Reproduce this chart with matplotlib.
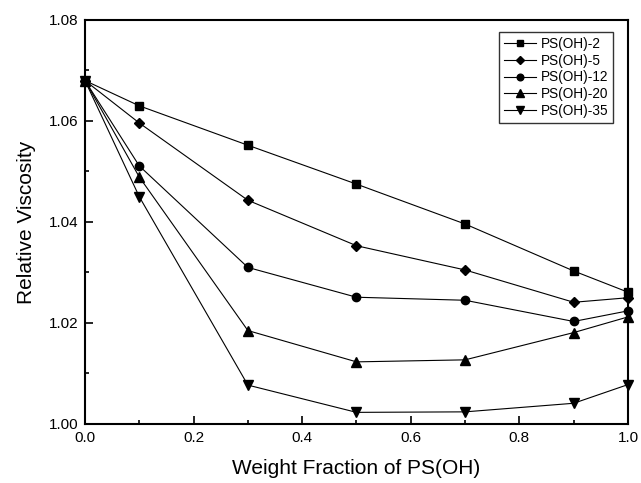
import matplotlib
matplotlib.use('Agg')
import matplotlib.pyplot as plt
from matplotlib.ticker import MultipleLocator

plt.rcParams['font.family'] = ['Liberation Sans', 'DejaVu Sans']

# weight fraction of PS(OH)
frac = [0.0, 0.1, 0.3, 0.5, 0.7, 0.9, 1.0]

# relative viscosity for each sample
ps2 = [1.068, 1.0630, 1.0552, 1.0475, 1.0396, 1.0303, 1.0261]
ps5 = [1.068, 1.0596, 1.0443, 1.0353, 1.0305, 1.0241, 1.0250]
ps12 = [1.068, 1.0511, 1.0310, 1.0251, 1.0245, 1.0203, 1.0224]
ps20 = [1.068, 1.0489, 1.0185, 1.0123, 1.0127, 1.0181, 1.0212]
ps35 = [1.068, 1.0450, 1.0077, 1.0023, 1.0024, 1.0041, 1.0078]

labels = ['PS(OH)-2', 'PS(OH)-5', 'PS(OH)-12', 'PS(OH)-20', 'PS(OH)-35']
markers = ['s', 'D', 'o', '^', 'v']
sizes = [5.5, 5, 6, 6.5, 6.5]

fig = plt.figure(figsize=(6.41, 4.83), dpi=100)
ax = fig.add_axes([0.1326, 0.1222, 0.8471, 0.8364])

for ys, lab, m, ms in zip([ps2, ps5, ps12, ps20, ps35], labels, markers, sizes):
    ax.plot(frac, ys, color='black', lw=0.8, marker=m, ms=ms,
            label=lab, clip_on=False)

ax.set_xlim(0, 1.0)
ax.set_ylim(1.00, 1.08)
ax.xaxis.set_major_locator(MultipleLocator(0.2))
ax.xaxis.set_minor_locator(MultipleLocator(0.1))
ax.yaxis.set_major_locator(MultipleLocator(0.02))
ax.yaxis.set_minor_locator(MultipleLocator(0.01))
ax.xaxis.set_major_formatter(plt.FuncFormatter(lambda v, p: '%.1f' % v))
ax.yaxis.set_major_formatter(plt.FuncFormatter(lambda v, p: '%.2f' % v))
ax.tick_params(which='both', direction='in', labelsize=11, width=1.2)
ax.tick_params(which='major', length=6, pad=5)
ax.tick_params(which='minor', length=3)
for s in ax.spines.values():
    s.set_linewidth(1.5)

ax.set_xlabel('Weight Fraction of PS(OH)', fontsize=15, labelpad=10)
ax.set_ylabel('Relative Viscosity', fontsize=15, labelpad=9)

leg = ax.legend(loc='upper right', fontsize=9.8, frameon=True, fancybox=False,
                edgecolor='black', borderpad=0.35, labelspacing=0.2,
                handlelength=2.4, handletextpad=0.3, markerscale=0.8,
                borderaxespad=0, bbox_to_anchor=(0.972, 0.97))
leg.get_frame().set_linewidth(1.0)

fig.savefig('out.png', dpi=100)
